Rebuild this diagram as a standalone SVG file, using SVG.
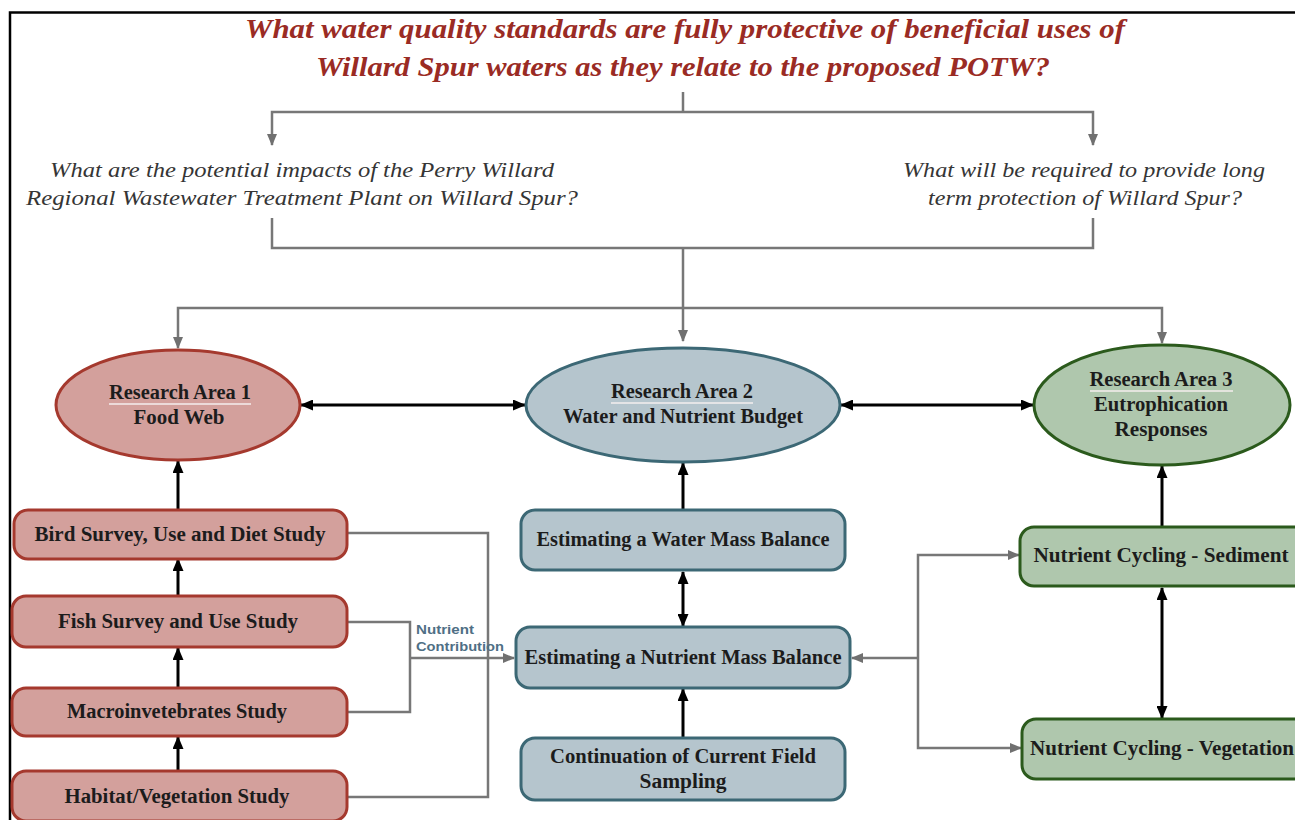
<svg xmlns="http://www.w3.org/2000/svg" width="1295" height="820" viewBox="0 0 1295 820">
  <defs>
    <marker id="gArrow" markerUnits="userSpaceOnUse" markerWidth="12" markerHeight="10" refX="11" refY="5" orient="auto-start-reverse">
      <path d="M0,0 L12,5 L0,10 Z" fill="#707070"/>
    </marker>
    <marker id="kArrow" markerUnits="userSpaceOnUse" markerWidth="13" markerHeight="11" refX="12" refY="5.5" orient="auto-start-reverse">
      <path d="M0,0 L13,5.5 L0,11 Z" fill="#000"/>
    </marker>
    <style>
      .title { font-family: "Liberation Serif", "DejaVu Serif", serif; font-style: italic; font-weight: bold; font-size: 28px; fill: #9a2b24; }
      .q { font-family: "Liberation Serif", "DejaVu Serif", serif; font-style: italic; font-size: 21px; fill: #353535; }
      .lbl { font-family: "Liberation Serif", "DejaVu Serif", serif; font-weight: bold; font-size: 20px; fill: #1c1c1c; text-anchor: middle; }
      .note { font-family: "Liberation Sans", "DejaVu Sans", sans-serif; font-weight: bold; font-size: 13.5px; fill: #4f6f85; }
      .gray { fill: none; stroke: #777; stroke-width: 2.5; }
      .black { fill: none; stroke: #000; stroke-width: 3; }
      .red { fill: #d3a09c; stroke: #a5392e; stroke-width: 3; }
      .blue { fill: #b5c5cd; stroke: #3c6875; stroke-width: 3; }
      .green { fill: #afc7ad; stroke: #2b5a1c; stroke-width: 3; }
      .ul { stroke: #f4eeee; stroke-width: 1.5; }
    </style>
  </defs>

  <rect width="1295" height="820" fill="#fff"/>
  <!-- page frame -->
  <path d="M10,820 V12.5 H1295" fill="none" stroke="#000" stroke-width="2.5"/>

  <!-- headline question -->
  <g id="title">
    <text class="title" x="685" y="38" text-anchor="middle" textLength="880" lengthAdjust="spacingAndGlyphs">What water quality standards are fully protective of beneficial uses of</text>
    <text class="title" x="683" y="76" text-anchor="middle" textLength="734" lengthAdjust="spacingAndGlyphs">Willard Spur waters as they relate to the proposed POTW?</text>
  </g>

  <g id="question-left">
    <text class="q" x="302" y="177" text-anchor="middle" textLength="504" lengthAdjust="spacingAndGlyphs">What are the potential impacts of the Perry Willard</text>
    <text class="q" x="302" y="205" text-anchor="middle" textLength="552" lengthAdjust="spacingAndGlyphs">Regional Wastewater Treatment Plant on Willard Spur?</text>
  </g>
  <g id="question-right">
    <text class="q" x="1084" y="177" text-anchor="middle" textLength="362" lengthAdjust="spacingAndGlyphs">What will be required to provide long</text>
    <text class="q" x="1085" y="205" text-anchor="middle" textLength="314" lengthAdjust="spacingAndGlyphs">term protection of Willard Spur?</text>
  </g>

  <!-- connectors -->
  <g id="connectors">
    <!-- title to sub-questions -->
    <path class="gray" d="M683,92 V112"/>
    <path class="gray" d="M272,145 V112 H1093 V145" marker-start="url(#gArrow)" marker-end="url(#gArrow)"/>
    <!-- sub-questions merge -->
    <path class="gray" d="M272,218 V248 H1093 V218"/>
    <path class="gray" d="M683,248 V341" marker-end="url(#gArrow)"/>
    <path class="gray" d="M178,348 V308 H1162 V343" marker-start="url(#gArrow)" marker-end="url(#gArrow)"/>

    <!-- links between research areas -->
    <path class="black" d="M301,405 H525" marker-start="url(#kArrow)" marker-end="url(#kArrow)"/>
    <path class="black" d="M841,405 H1033" marker-start="url(#kArrow)" marker-end="url(#kArrow)"/>

    <!-- food web chain -->
    <path class="black" d="M178,509 V461" marker-end="url(#kArrow)"/>
    <path class="black" d="M178,595 V559" marker-end="url(#kArrow)"/>
    <path class="black" d="M178,687 V648" marker-end="url(#kArrow)"/>
    <path class="black" d="M178,770 V737" marker-end="url(#kArrow)"/>

    <!-- water and nutrient budget chain -->
    <path class="black" d="M683,509 V463" marker-end="url(#kArrow)"/>
    <path class="black" d="M683,572 V626" marker-start="url(#kArrow)" marker-end="url(#kArrow)"/>
    <path class="black" d="M683,737 V689" marker-end="url(#kArrow)"/>

    <!-- eutrophication chain -->
    <path class="black" d="M1162,526 V466" marker-end="url(#kArrow)"/>
    <path class="black" d="M1162,588 V718" marker-start="url(#kArrow)" marker-end="url(#kArrow)"/>

    <!-- nutrient contribution from food web studies -->
    <path class="gray" d="M348,533 H488 V797 H348"/>
    <path class="gray" d="M348,622 H410 V712 H348"/>
    <path class="gray" d="M410,658 H514" marker-end="url(#gArrow)"/>

    <!-- nutrient cycling feedback -->
    <path class="gray" d="M1019,555 H918 V748 H1021" marker-start="url(#gArrow)" marker-end="url(#gArrow)"/>
    <path class="gray" d="M918,658 H852" marker-end="url(#gArrow)"/>
  </g>

  <text class="note" x="416" y="634" textLength="58" lengthAdjust="spacingAndGlyphs">Nutrient</text>
  <text class="note" x="416" y="651" textLength="88" lengthAdjust="spacingAndGlyphs">Contribution</text>

  <!-- research areas -->
  <g id="ra1">
    <ellipse class="red" cx="178" cy="405" rx="122" ry="55"/>
    <text class="lbl" x="180" y="399" textLength="142" lengthAdjust="spacingAndGlyphs">Research Area 1</text>
    <line class="ul" x1="109" y1="404" x2="251" y2="404"/>
    <text class="lbl" x="179" y="424" textLength="91" lengthAdjust="spacingAndGlyphs">Food Web</text>
  </g>
  <g id="ra2">
    <ellipse class="blue" cx="683" cy="405" rx="157" ry="57"/>
    <text class="lbl" x="682" y="398" textLength="142" lengthAdjust="spacingAndGlyphs">Research Area 2</text>
    <line class="ul" x1="611" y1="403" x2="753" y2="403"/>
    <text class="lbl" x="683" y="423" textLength="240" lengthAdjust="spacingAndGlyphs">Water and Nutrient Budget</text>
  </g>
  <g id="ra3">
    <ellipse class="green" cx="1162" cy="405" rx="128" ry="60"/>
    <text class="lbl" x="1161" y="386" textLength="143" lengthAdjust="spacingAndGlyphs">Research Area 3</text>
    <line class="ul" x1="1090" y1="391" x2="1233" y2="391"/>
    <text class="lbl" x="1161" y="411" textLength="134" lengthAdjust="spacingAndGlyphs">Eutrophication</text>
    <text class="lbl" x="1161" y="436" textLength="93" lengthAdjust="spacingAndGlyphs">Responses</text>
  </g>

  <!-- food web studies -->
  <g id="bird">
    <rect class="red" x="14" y="510" width="333" height="49" rx="14"/>
    <text class="lbl" x="180" y="541" textLength="291" lengthAdjust="spacingAndGlyphs">Bird Survey, Use and Diet Study</text>
  </g>
  <g id="fish">
    <rect class="red" x="12" y="596" width="335" height="51" rx="14"/>
    <text class="lbl" x="178" y="628" textLength="240" lengthAdjust="spacingAndGlyphs">Fish Survey and Use Study</text>
  </g>
  <g id="macro">
    <rect class="red" x="12" y="688" width="335" height="48" rx="14"/>
    <text class="lbl" x="177" y="718" textLength="220" lengthAdjust="spacingAndGlyphs">Macroinvetebrates Study</text>
  </g>
  <g id="habitat">
    <rect class="red" x="12" y="771" width="335" height="50" rx="14"/>
    <text class="lbl" x="177" y="803" textLength="225" lengthAdjust="spacingAndGlyphs">Habitat/Vegetation Study</text>
  </g>

  <!-- water and nutrient studies -->
  <g id="water">
    <rect class="blue" x="521" y="510" width="324" height="60" rx="14"/>
    <text class="lbl" x="683" y="546" textLength="293" lengthAdjust="spacingAndGlyphs">Estimating a Water Mass Balance</text>
  </g>
  <g id="nutrient">
    <rect class="blue" x="516" y="627" width="334" height="61" rx="14"/>
    <text class="lbl" x="683" y="664" textLength="317" lengthAdjust="spacingAndGlyphs">Estimating a Nutrient Mass Balance</text>
  </g>
  <g id="field">
    <rect class="blue" x="521" y="738" width="324" height="62" rx="14"/>
    <text class="lbl" x="683" y="763" textLength="266" lengthAdjust="spacingAndGlyphs">Continuation of Current Field</text>
    <text class="lbl" x="683" y="788" textLength="87" lengthAdjust="spacingAndGlyphs">Sampling</text>
  </g>

  <!-- nutrient cycling studies -->
  <g id="sediment">
    <rect class="green" x="1020" y="527" width="290" height="59" rx="14"/>
    <text class="lbl" x="1161" y="562" textLength="255" lengthAdjust="spacingAndGlyphs">Nutrient Cycling - Sediment</text>
  </g>
  <g id="vegetation">
    <rect class="green" x="1022" y="719" width="290" height="60" rx="14"/>
    <text class="lbl" x="1162" y="755" textLength="264" lengthAdjust="spacingAndGlyphs">Nutrient Cycling - Vegetation</text>
  </g>
</svg>
